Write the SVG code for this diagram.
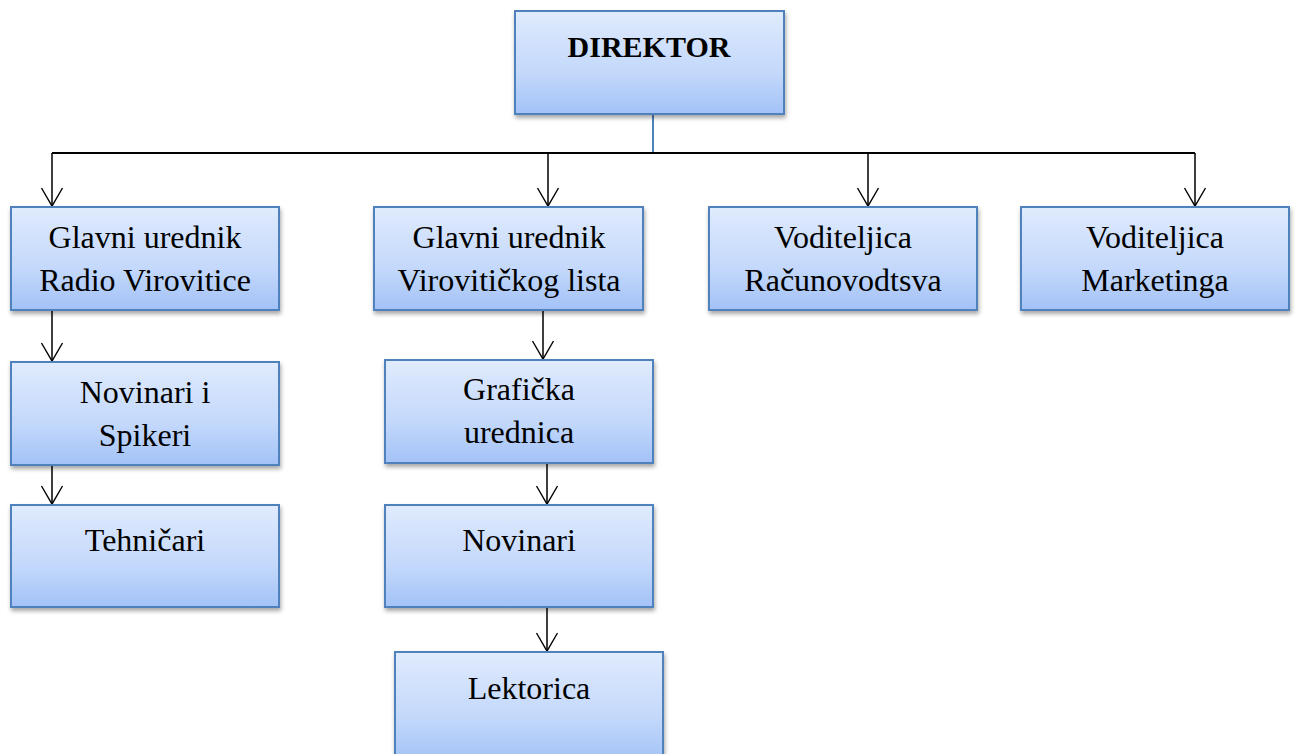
<svg xmlns="http://www.w3.org/2000/svg" width="1295" height="754" viewBox="0 0 1295 754">
<style>
.box{fill:url(#g);stroke:#4f81bd;stroke-width:2;filter:url(#sh)}
.t{font-family:"Liberation Serif","Times New Roman",serif;font-size:32px;fill:#000;text-anchor:middle}
.b{font-weight:bold;font-size:30px}
.c{fill:none;stroke:#000;stroke-width:1.5;marker-end:url(#ah)}
</style>
<defs>
<linearGradient id="g" x1="0" y1="0" x2="0" y2="1">
<stop offset="0" stop-color="#e0ebfd"/>
<stop offset="0.6" stop-color="#c3d8fb"/>
<stop offset="1" stop-color="#a3c2f7"/>
</linearGradient>
<filter id="sh" x="-10%" y="-10%" width="120%" height="130%">
<feDropShadow dx="1" dy="3" stdDeviation="2" flood-color="#000" flood-opacity="0.35"/>
</filter>
<marker id="ah" markerUnits="userSpaceOnUse" viewBox="0 0 20 22" refX="18" refY="11" markerWidth="20" markerHeight="22" orient="auto" overflow="visible">
<path d="M0,0.5 L18,11 L0,21.5" fill="none" stroke="#000" stroke-width="1.4"/>
</marker>
</defs>
<g id="connectors">
<path d="M653,114 V153" fill="none" stroke="#4f81bd" stroke-width="2"/>
<path d="M52,153 H1195" fill="none" stroke="#000" stroke-width="2"/>
<path class="c" d="M52,153 V206"/>
<path class="c" d="M548,153 V206"/>
<path class="c" d="M868,153 V206"/>
<path class="c" d="M1195,153 V206"/>
<path class="c" d="M52,310 V361"/>
<path class="c" d="M52,465 V504"/>
<path class="c" d="M543,310 V359"/>
<path class="c" d="M547,463 V504"/>
<path class="c" d="M547,602 V651"/>
</g>
<g id="direktor"><rect class="box" x="515" y="11" width="269" height="103"/><text class="t b" x="649" y="57">DIREKTOR</text></g>
<g id="glavni-radio"><rect class="box" x="11" y="207" width="268" height="103"/><text class="t" x="145" y="248">Glavni urednik</text><text class="t" x="145" y="291">Radio Virovitice</text></g>
<g id="glavni-list"><rect class="box" x="374" y="207" width="269" height="103"/><text class="t" x="509" y="248">Glavni urednik</text><text class="t" x="509" y="291">Virovitičkog lista</text></g>
<g id="racunovodstvo"><rect class="box" x="709" y="207" width="268" height="103"/><text class="t" x="843" y="248">Voditeljica</text><text class="t" x="843" y="291">Računovodtsva</text></g>
<g id="marketing"><rect class="box" x="1021" y="207" width="268" height="103"/><text class="t" x="1155" y="248">Voditeljica</text><text class="t" x="1155" y="291">Marketinga</text></g>
<g id="novinari-spikeri"><rect class="box" x="11" y="362" width="268" height="103"/><text class="t" x="145" y="403">Novinari i</text><text class="t" x="145" y="446">Spikeri</text></g>
<g id="tehnicari"><rect class="box" x="11" y="505" width="268" height="102"/><text class="t" x="145" y="551">Tehničari</text></g>
<g id="graficka"><rect class="box" x="385" y="360" width="268" height="103"/><text class="t" x="519" y="400">Grafička</text><text class="t" x="519" y="443">urednica</text></g>
<g id="novinari"><rect class="box" x="385" y="505" width="268" height="102"/><text class="t" x="519" y="551">Novinari</text></g>
<g id="lektorica"><rect class="box" x="395" y="652" width="268" height="110"/><text class="t" x="529" y="699">Lektorica</text></g>
</svg>
